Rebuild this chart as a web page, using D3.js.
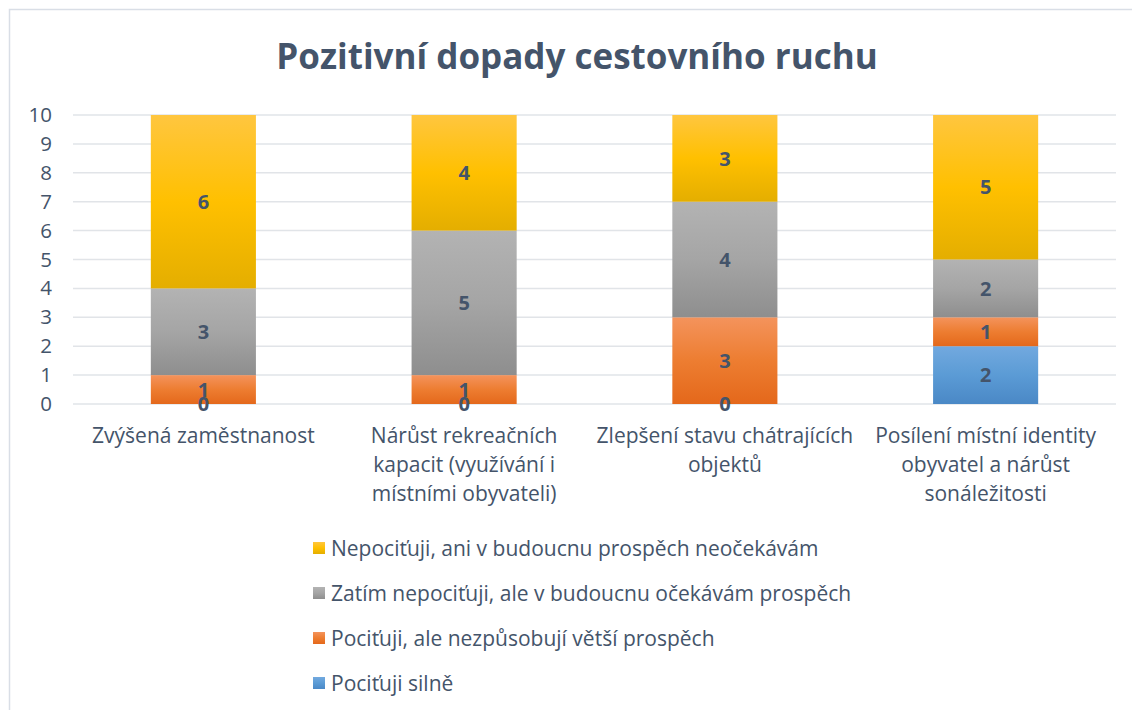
<!DOCTYPE html>
<html><head><meta charset="utf-8">
<script src="https://cdn.jsdelivr.net/npm/d3@7"></script>
<style>
html,body{margin:0;padding:0;background:#fff;}
svg{display:block;}
text{font-family:"Open Sans",Lato,sans-serif;}
</style></head>
<body>
<svg id="chart" width="1132" height="710"></svg>
<script>
const title = "Pozitivní dopady cestovního ruchu";
const categories = ["Zvýšená zaměstnanost","Nárůst rekreačních kapacit (využívání i místními obyvateli)","Zlepšení stavu chátrajících objektů","Posílení místní identity obyvatel a nárůst sonáležitosti"];
const categoryLines = [["Zvýšená zaměstnanost"],["Nárůst rekreačních","kapacit (využívání i","místními obyvateli)"],["Zlepšení stavu chátrajících","objektů"],["Posílení místní identity","obyvatel a nárůst","sonáležitosti"]];
const seriesNames = ["Pociťuji silně","Pociťuji, ale nezpůsobují větší prospěch","Zatím nepociťuji, ale v budoucnu očekávám prospěch","Nepociťuji, ani v budoucnu prospěch neočekávám"];
const silne = [0,0,0,2];
const aleNe = [1,1,3,1];
const zatim = [3,5,4,2];
const nepocituji = [6,4,3,5];
const yTicks = [0,1,2,3,4,5,6,7,8,9,10];

(function(){
const values = [silne, aleNe, zatim, nepocituji];
const gradStops = [
  ["#72A9DF","#5B9BD5","#4A88C6"],
  ["#F4935C","#ED7D31","#E4681B"],
  ["#B3B3B3","#A5A5A5","#8E8E8E"],
  ["#FFC63F","#FFC000","#E4AE00"]
];
const textColor = "#44546A";
const ff = "'Open Sans', Lato, sans-serif";

const svg = d3.select("#chart");
const defs = svg.append("defs");
gradStops.forEach((s,i)=>{
  const g = defs.append("linearGradient").attr("id","g"+i).attr("x1",0).attr("y1",0).attr("x2",0).attr("y2",1);
  g.append("stop").attr("offset","0%").attr("stop-color",s[0]);
  g.append("stop").attr("offset","50%").attr("stop-color",s[1]);
  g.append("stop").attr("offset","100%").attr("stop-color",s[2]);
});

svg.append("rect").attr("x",9.5).attr("y",9.5).attr("width",1140).attr("height",720)
  .attr("fill","none").attr("stroke","#D9DEE6").attr("stroke-width",1.5);

svg.append("text").attr("x",577).attr("y",69).attr("text-anchor","middle")
  .attr("font-size",35).attr("font-weight",700).attr("fill",textColor).text(title);

const pLeft = 73, pRight = 1116, pTop = 115, pBottom = 404;
const x = d3.scaleBand().domain(categories).range([pLeft,pRight]).paddingInner(0.597).paddingOuter(0.2985);
const y = d3.scaleLinear().domain([0,10]).range([pBottom,pTop]);

svg.append("g").selectAll("line").data(yTicks).join("line")
  .attr("x1",pLeft).attr("x2",pRight).attr("y1",d=>y(d)).attr("y2",d=>y(d))
  .attr("stroke","#E1E4E8").attr("stroke-width",1.5);

const yAxis = d3.axisLeft(y).tickValues(yTicks).tickSize(0).tickPadding(0).tickFormat(d3.format("d"));
const ya = svg.append("g").attr("transform",`translate(52,0)`).call(yAxis);
ya.select(".domain").remove();
ya.selectAll("text").attr("font-size",20.5).attr("fill",textColor).attr("font-family",ff);

const rows = categories.map((c,i)=>{const o={cat:c}; seriesNames.forEach((s,k)=>o[s]=values[k][i]); return o;});
const stacked = d3.stack().keys(seriesNames)(rows);

const layers = svg.append("g").selectAll("g").data(stacked).join("g").attr("fill",(d,i)=>`url(#g${i})`);
layers.selectAll("rect").data(d=>d).join("rect")
  .attr("x",d=>x(d.data.cat)).attr("width",x.bandwidth())
  .attr("y",d=>y(d[1])).attr("height",d=>y(d[0])-y(d[1]));

const lab = svg.append("g");
stacked.forEach((layer,k)=>{
  lab.selectAll(null).data(layer).join("text")
    .attr("x",d=>x(d.data.cat)+x.bandwidth()/2)
    .attr("y",d=>(y(d[0])+y(d[1]))/2)
    .attr("dy","0.36em").attr("text-anchor","middle")
    .attr("font-size",20).attr("font-weight",700).attr("fill",textColor)
    .text(d=>d[1]-d[0]);
});

const cg = svg.append("g");
categories.forEach((c,i)=>{
  const t = cg.append("text").attr("text-anchor","middle").attr("font-size",21).attr("fill",textColor);
  categoryLines[i].forEach((ln,j)=>{
    t.append("tspan").attr("x",x(c)+x.bandwidth()/2).attr("y",443+j*29).text(ln);
  });
});

const legOrder = [3,2,1,0];
const lg = svg.append("g");
legOrder.forEach((k,j)=>{
  const yy = 548 + j*45;
  lg.append("rect").attr("x",313).attr("y",yy-6).attr("width",12).attr("height",12).attr("fill",`url(#g${k})`);
  lg.append("text").attr("x",331).attr("y",yy).attr("dy","0.36em").attr("font-size",21).attr("fill",textColor).text(seriesNames[k]);
});
})();
</script>
</body></html>
